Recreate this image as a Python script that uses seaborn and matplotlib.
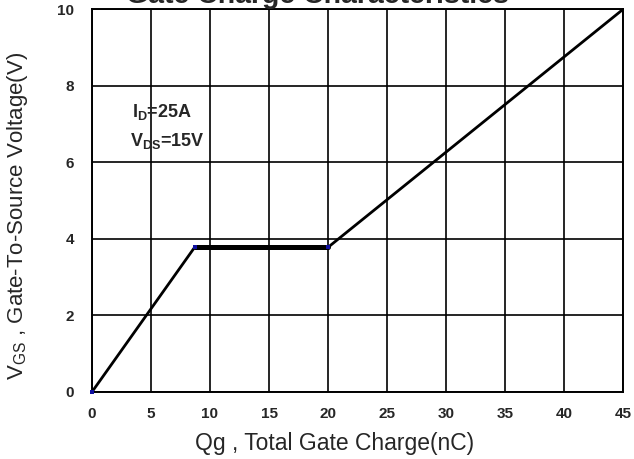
import matplotlib
matplotlib.use("Agg")
import matplotlib.pyplot as plt
import seaborn as sns
import pandas as pd

# Gate charge curve
qg_nc = [0.0, 8.7, 20.0, 45.0]
vgs_v = [0.0, 3.78, 3.78, 10.0]

# Miller plateau segment
plateau_qg = [8.7, 20.0]
plateau_vgs = [3.78, 3.78]

x_ticks = [0, 5, 10, 15, 20, 25, 30, 35, 40, 45]
y_ticks = [0, 2, 4, 6, 8, 10]

sns.set_style('white')
plt.rcParams['font.family'] = ['Liberation Sans', 'DejaVu Sans']
plt.rcParams['mathtext.fontset'] = 'custom'
plt.rcParams['mathtext.rm'] = 'Liberation Sans'
plt.rcParams['mathtext.bf'] = 'Liberation Sans:bold'

fig = plt.figure(figsize=(6.34, 4.59), dpi=100)
ax = fig.add_axes([0.145, 0.146, 0.838, 0.834])

curve = pd.DataFrame({'qg': qg_nc, 'vgs': vgs_v})
plateau = pd.DataFrame({'qg': plateau_qg, 'vgs': plateau_vgs})

sns.lineplot(data=curve, x='qg', y='vgs', ax=ax, color='black', linewidth=2.0,
             sort=False, estimator=None, zorder=3)
sns.lineplot(data=plateau, x='qg', y='vgs', ax=ax, color='black', linewidth=3.6,
             estimator=None, zorder=3)
sns.scatterplot(data=curve.iloc[:3], x='qg', y='vgs', ax=ax, color='#1010a0',
                marker='s', s=12, linewidth=0, zorder=4, clip_on=False)

ax.set_xlim(0, 45)
ax.set_ylim(0, 10)
ax.set_xticks(x_ticks)
ax.set_yticks(y_ticks)
ax.grid(True, color='black', linewidth=1.2)
ax.set_axisbelow(True)
for sp in ax.spines.values():
    sp.set_color('black')
    sp.set_linewidth(1.4)

ax.tick_params(axis='both', direction='in', length=4, width=1.4, color='black',
               labelsize=11)
ax.tick_params(axis='x', pad=11)
ax.tick_params(axis='y', pad=13)
for lab in ax.get_xticklabels() + ax.get_yticklabels():
    lab.set_fontweight('bold')

ax.set_xlabel('Qg , Total Gate Charge(nC)', fontsize=16.5)
ax.xaxis.set_label_coords(0.456, -0.104)
ax.set_ylabel(r'V$\mathregular{_{GS}}$ , Gate-To-Source Voltage(V)', fontsize=16)
ax.yaxis.set_label_coords(-0.117, 0.46)

ax.text(3.4, 7.31, r'I$\mathbf{_D}$=25A', fontsize=13, fontweight='bold',
        va='center')
ax.text(3.2, 6.55, r'V$\mathbf{_{DS}}$=15V', fontsize=13, fontweight='bold',
        va='center')

fig.text(0.5, 0.993, 'Gate Charge Characteristics', ha='center', va='baseline',
         fontsize=20.5, fontweight='bold')

fig.savefig('out.png', dpi=100)
